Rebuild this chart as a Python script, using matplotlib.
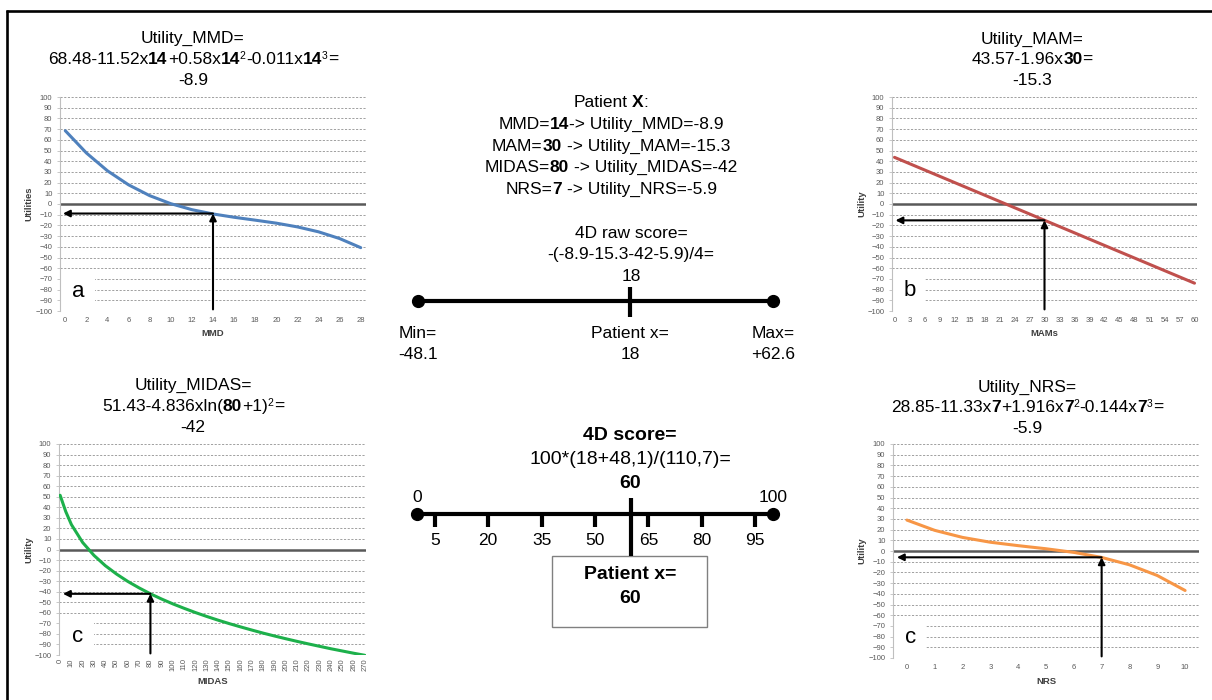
import matplotlib
matplotlib.use('Agg')
import matplotlib.pyplot as plt
from matplotlib.patches import Rectangle

plt.rcParams['font.family'] = ['Liberation Sans', 'DejaVu Sans']

W, H = 1212, 700

# ---------------- data ----------------
mmd_x = [0, 2, 4, 6, 8, 10, 12, 14, 16, 18, 20, 22, 24, 26, 28]
mmd_u = [68.5, 47.7, 31.0, 17.9, 7.8, 0.3, -5.3, -9.3, -12.4, -15.1, -17.9, -21.4, -26.0, -32.3, -40.8]

mam_x = [0, 60]
mam_u = [43.6, -74.0]

midas_x = [0, 5, 10, 20, 30, 40, 50, 60, 70, 80, 90, 100, 110, 120, 130, 140,
           150, 160, 170, 180, 190, 200, 210, 220, 230, 240, 250, 260, 270]
midas_u = [51.4, 35.9, 23.6, 6.6, -5.6, -15.3, -23.3, -30.3, -36.4, -42.0, -47.0, -51.6,
           -55.8, -59.8, -63.5, -67.0, -70.3, -73.4, -76.4, -79.3, -82.0, -84.6, -87.1,
           -89.5, -91.8, -94.1, -96.2, -98.3, -100.3]

nrs_x = [0, 1, 2, 3, 4, 5, 6, 7, 8, 9, 10]
nrs_u = [28.9, 19.3, 12.7, 8.2, 5.0, 2.1, -1.3, -6.0, -12.9, -22.9, -36.9]

y_ticks = list(range(-100, 101, 10))
mmd_ticks = list(range(0, 29, 2))
mam_ticks = list(range(0, 61, 3))
midas_ticks = list(range(0, 271, 10))
nrs_ticks = list(range(0, 11))

patient_mmd, patient_mam, patient_midas, patient_nrs = 14, 30, 80, 7
util_mmd, util_mam, util_midas, util_nrs = -8.9, -15.3, -42, -5.9

raw_min, raw_max, raw_score = -48.1, 62.6, 18
score_min, score_max, score = 0, 100, 60
score_ticks = [5, 20, 35, 50, 65, 80, 95]

BLUE, RED, GREEN, ORANGE = '#4F81BD', '#C0504D', '#1DB04B', '#F79646'

# ---------------- figure ----------------
fig = plt.figure(figsize=(W / 100, H / 100), dpi=100)
ov = fig.add_axes([0, 0, 1, 1])
ov.set_xlim(0, W)
ov.set_ylim(H, 0)
ov.axis('off')
renderer = fig.canvas.get_renderer()

# frame (top and left)
ov.plot([6, W], [11, 11], color='black', lw=1.9, solid_capstyle='butt')
ov.plot([7, 7], [10, H], color='black', lw=1.9, solid_capstyle='butt')


def rich(xc, yb, pieces, size=12.5):
    items = []
    for s, bold, sup in pieces:
        fs = size * 0.6 if sup else size
        dy = -5 if sup else 0
        lead = len(s) - len(s.lstrip(' '))
        t = ov.text(0, yb + dy, s.strip(' '), fontsize=fs,
                    fontweight='bold' if bold else 'normal',
                    ha='left', va='baseline')
        w = t.get_window_extent(renderer).width
        sp = lead * 0.278 * fs * 100 / 72
        trail = (len(s) - len(s.rstrip(' '))) * 0.278 * fs * 100 / 72
        items.append((t, sp, w, trail))
    total = sum(a + b + c for _, a, b, c in items)
    x = xc - total / 2
    for t, sp, w, trail in items:
        x += sp
        t.set_x(x)
        x += w + trail


def panel(rect, xs, ys, color, xlim, xticks, xlabel, ylabel, px, pu, left,
          letter, lpos, box_w, xlab_y, ylab_x, rot=0, tick_pad=4.5):
    l, t, r, b = rect
    ax = fig.add_axes([l / W, 1 - b / H, (r - l) / W, (b - t) / H])
    ax.set_xlim(*xlim)
    ax.set_ylim(-100, 100)
    ax.set_yticks(y_ticks)
    ax.set_xticks(xticks)
    ax.yaxis.grid(True, color='#a0a0a0', lw=0.7, ls=(0, (2.2, 1.6)), zorder=1)
    ax.set_axisbelow(True)
    ax.axhline(0, color='#595959', lw=1.8, zorder=2)
    for s in ['top', 'right', 'bottom']:
        ax.spines[s].set_visible(False)
    ax.spines['left'].set_color('#bfbfbf')
    ax.spines['left'].set_linewidth(0.8)
    ax.spines['left'].set_zorder(2.6)
    ax.tick_params(axis='y', length=2.5, width=0.6, color='#bfbfbf', pad=3,
                   labelsize=5.5, labelcolor='#595959')
    ax.tick_params(axis='x', length=0, pad=tick_pad, labelsize=5.5,
                   labelcolor='#595959', labelrotation=rot)
    ax.plot(xs, ys, color=color, lw=2.2, zorder=3, solid_capstyle='round')
    ax.add_patch(Rectangle((0.004, 0.025), box_w, 0.15, transform=ax.transAxes,
                           facecolor='white', edgecolor='none', zorder=2.2))
    ax.text(lpos[0], lpos[1], letter, transform=ax.transAxes, fontsize=16,
            ha='center', va='center', zorder=4)
    ap = dict(arrowstyle='-|>', color='black', lw=1.5, mutation_scale=10,
              shrinkA=0, shrinkB=0)
    ax.annotate('', xy=(px, pu), xytext=(px, -98.5), arrowprops=ap, zorder=5)
    ax.annotate('', xy=(left, pu), xytext=(px, pu), arrowprops=ap, zorder=5)
    ax.set_xlabel(xlabel, fontsize=6.8, fontweight='bold', color='#404040', va='center')
    ax.set_ylabel(ylabel, fontsize=6.8, fontweight='bold', color='#404040', va='center')
    ax.xaxis.set_label_coords(0.5, -(xlab_y - b) / (b - t))
    ax.yaxis.set_label_coords((ylab_x - l) / (r - l), 0.5)
    return ax


panel((60, 97, 366, 311), mmd_x, mmd_u, BLUE, (-0.5, 28.5), mmd_ticks, 'MMD', 'Utilities',
      patient_mmd, util_mmd, -0.22, 'a', (0.059, 0.089), 0.11, 334, 29)
panel((892, 97, 1197, 311), mam_x, mam_u, RED, (-0.5, 60.5), mam_ticks, 'MAMs', 'Utility',
      patient_mam, util_mam, 0.2, 'b', (0.059, 0.098), 0.105, 334, 862)
panel((59, 444, 366, 655), midas_x, midas_u, GREEN, (-1, 271), midas_ticks, 'MIDAS', 'Utility',
      patient_midas, util_midas, 2.5, 'c', (0.062, 0.09), 0.11, 682, 29, rot=90, tick_pad=2.5)
panel((893, 444, 1199, 658), nrs_x, nrs_u, ORANGE, (-0.5, 10.5), nrs_ticks, 'NRS', 'Utility',
      patient_nrs, util_nrs, -0.36, 'c', (0.056, 0.098), 0.105, 682, 862)

# ---------------- panel titles ----------------
N, B, S = 0, 1, 1
rich(193, 43, [("Utility_MMD=", 0, 0)])
rich(193, 64, [("68.48-11.52x", 0, 0), (f"{patient_mmd}", 1, 0), ("+0.58x", 0, 0),
               (f"{patient_mmd}", 1, 0), ("2", 0, 1), ("-0.011x", 0, 0),
               (f"{patient_mmd}", 1, 0), ("3", 0, 1), ("=", 0, 0)])
rich(193, 85, [(f"{util_mmd}", 0, 0)])

rich(1032, 44, [("Utility_MAM=", 0, 0)])
rich(1032, 64, [("43.57-1.96x", 0, 0), (f"{patient_mam}", 1, 0), ("=", 0, 0)])
rich(1032, 85, [(f"{util_mam}", 0, 0)])

rich(193, 390, [("Utility_MIDAS=", 0, 0)])
rich(193, 411, [("51.43-4.836xln(", 0, 0), (f"{patient_midas}", 1, 0), ("+1)", 0, 0),
                ("2", 0, 1), ("=", 0, 0)])
rich(193, 432, [(f"{util_midas}", 0, 0)])

rich(1027, 392, [("Utility_NRS=", 0, 0)])
rich(1027, 412, [("28.85-11.33x", 0, 0), (f"{patient_nrs}", 1, 0), ("+1.916x", 0, 0),
                 (f"{patient_nrs}", 1, 0), ("2", 0, 1), ("-0.144x", 0, 0),
                 (f"{patient_nrs}", 1, 0), ("3", 0, 1), ("=", 0, 0)])
rich(1027, 433, [(f"{util_nrs}", 0, 0)])

# ---------------- centre text ----------------
rich(611, 107, [("Patient ", 0, 0), ("X", 1, 0), (":", 0, 0)])
rich(611, 129, [("MMD=", 0, 0), (f"{patient_mmd}", 1, 0), (f"-> Utility_MMD={util_mmd}", 0, 0)])
rich(611, 151, [("MAM=", 0, 0), (f"{patient_mam}", 1, 0), (f" -> Utility_MAM={util_mam}", 0, 0)])
rich(611, 172, [("MIDAS=", 0, 0), (f"{patient_midas}", 1, 0), (f" -> Utility_MIDAS={util_midas}", 0, 0)])
rich(611, 194, [("NRS=", 0, 0), (f"{patient_nrs}", 1, 0), (f" -> Utility_NRS={util_nrs}", 0, 0)])

rich(631, 238, [("4D raw score=", 0, 0)])
rich(631, 259, [(f"-({util_mmd}{util_mam}{util_midas}{util_nrs})/4=", 0, 0)])
rich(631, 281, [(f"{raw_score}", 0, 0)])

# raw score scale
ar = fig.add_axes([418 / W, 1 - 370 / H, (773 - 418) / W, 110 / H])
ar.set_xlim(raw_min, raw_max)
ar.set_ylim(370, 260)
ar.axis('off')
ar.plot([raw_min, raw_max], [301, 301], color='black', lw=3, solid_capstyle='butt', clip_on=False)
ar.plot([raw_min, raw_max], [301, 301], 'o', color='black', ms=8.5, clip_on=False)
ar.plot([raw_score, raw_score], [287, 317], color='black', lw=3, solid_capstyle='butt', clip_on=False)
for xv, l1, l2 in [(raw_min, "Min=", f"{raw_min}"), (raw_score, "Patient x=", f"{raw_score}"),
                   (raw_max, "Max=", f"+{raw_max}")]:
    ar.text(xv, 338, l1, ha='center', va='baseline', fontsize=12.5, clip_on=False)
    ar.text(xv, 359, l2, ha='center', va='baseline', fontsize=12.5, clip_on=False)

# final score
rich(630, 440, [("4D score=", 1, 0)], size=14)
rich(630, 464, [("100*(18+48,1)/(110,7)=", 0, 0)], size=14)
rich(630, 488, [(f"{score}", 1, 0)], size=14)

asc = fig.add_axes([417 / W, 1 - 640 / H, 356 / W, 160 / H])
asc.set_xlim(score_min, score_max)
asc.set_ylim(640, 480)
asc.axis('off')
asc.plot([score_min, score_max], [514, 514], color='black', lw=3, solid_capstyle='butt', clip_on=False)
asc.plot([score_min, score_max], [514, 514], 'o', color='black', ms=8.5, clip_on=False)
for v in score_ticks:
    asc.plot([v, v], [514, 527], color='black', lw=3, solid_capstyle='butt', clip_on=False)
    asc.text(v, 545, f"{v}", ha='center', va='baseline', fontsize=12.5, clip_on=False)
asc.text(score_min, 502, f"{score_min}", ha='center', va='baseline', fontsize=12.5, clip_on=False)
asc.text(score_max, 502, f"{score_max}", ha='center', va='baseline', fontsize=12.5, clip_on=False)
asc.plot([score, score], [498, 556], color='black', lw=3, solid_capstyle='butt', clip_on=False)

ov.add_patch(Rectangle((552, 556), 155, 71, facecolor='white', edgecolor='#808080', lw=1))
rich(630, 579, [("Patient x=", 1, 0)], size=14)
rich(630, 603, [(f"{score}", 1, 0)], size=14)

fig.savefig('out.png', dpi=100)
